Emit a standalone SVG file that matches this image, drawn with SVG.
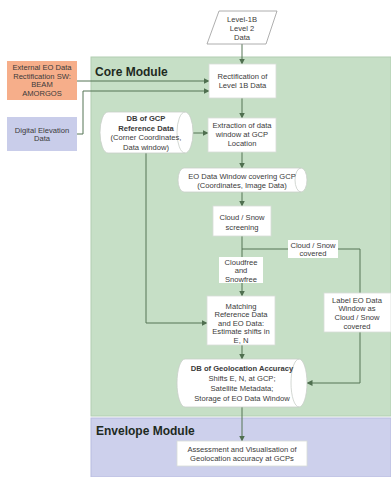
<svg xmlns="http://www.w3.org/2000/svg" width="391" height="477" viewBox="0 0 391 477">
<defs>
<marker id="ah" markerWidth="6" markerHeight="6" refX="5.5" refY="3" orient="auto" markerUnits="userSpaceOnUse">
<path d="M0,0 L6,3 L0,6 Z" fill="#4f6f4f"/>
</marker>
<style>
.t{font-family:"Liberation Sans",Arial,sans-serif;font-size:7.6px;fill:#3a3a3a;text-anchor:middle}
.b{font-weight:bold}
.h{font-family:"Liberation Sans",Arial,sans-serif;font-size:12px;font-weight:bold;fill:#1e2a1e}
.box{fill:#ffffff;stroke:#d8ddd8;stroke-width:0.8}
.cyl{fill:#ffffff;stroke:#c8cec8;stroke-width:0.8}
.c{fill:none;stroke:#557555;stroke-width:1}
.a{marker-end:url(#ah)}
</style>
</defs>
<rect width="391" height="477" fill="#ffffff"/>
<g id="core-module">
<rect x="91" y="57" width="300" height="359" fill="#c6dfc6" stroke="#b2ceb2" stroke-width="1"/>
<text class="h" x="95" y="76">Core Module</text>
</g>
<g id="envelope-module">
<rect x="91" y="418" width="300" height="59" fill="#cdd0ec" stroke="#b8bce0" stroke-width="1"/>
<text class="h" x="96" y="435">Envelope Module</text>
</g>
<g id="connectors">
<path class="c a" d="M242,44 V64"/>
<path class="c a" d="M77,81 H209"/>
<path class="c a" d="M77,134 H83 V91 H209"/>
<path class="c a" d="M242,98 V118"/>
<path class="c a" d="M193,133 H208"/>
<path class="c a" d="M242,152 V168"/>
<path class="c a" d="M242,192 V206"/>
<path class="c a" d="M242,236 V296"/>
<path class="c" d="M242,249 H360 V293"/>
<path class="c a" d="M360,332 V383 H307"/>
<path class="c a" d="M146,153 V323 H207"/>
<path class="c a" d="M242,345 V359"/>
<path class="c a" d="M242,407 V441"/>
</g>
<g id="level1b">
<polygon points="219,11 277,11 266,44 207,44" fill="#ffffff" stroke="#9a9a9a" stroke-width="0.8"/>
<text class="t" x="242" y="22">Level-1B</text>
<text class="t" x="242" y="31">Level 2</text>
<text class="t" x="242" y="40">Data</text>
</g>
<g id="external-eo">
<rect x="7" y="61" width="70" height="39" fill="#f6ae8a"/>
<text class="t" x="42" y="70">External EO Data</text>
<text class="t" x="42" y="78.5">Rectification SW:</text>
<text class="t" x="42" y="87">BEAM</text>
<text class="t" x="42" y="95.5">AMORGOS</text>
</g>
<g id="dem">
<rect x="7" y="117" width="70" height="34" fill="#c9cdea"/>
<text class="t" x="42" y="133">Digital Elevation</text>
<text class="t" x="42" y="141">Data</text>
</g>
<g id="rectification">
<rect class="box" x="209" y="64" width="67" height="34"/>
<text class="t" x="242.5" y="79">Rectification of</text>
<text class="t" x="242.5" y="88">Level 1B Data</text>
</g>
<g id="extraction">
<rect class="box" x="208" y="118" width="68" height="34"/>
<text class="t" x="242" y="128">Extraction of data</text>
<text class="t" x="242" y="137">window at GCP</text>
<text class="t" x="242" y="146">Location</text>
</g>
<g id="db-gcp">
<path class="cyl" d="M108,112 H185 A8,20.5 0 0 1 185,153 H108 A8,20.5 0 0 1 108,112 Z"/>
<path fill="none" stroke="#c8cec8" stroke-width="0.8" d="M185,112 A8,20.5 0 0 0 185,153"/>
<text class="t b" x="146" y="121">DB of GCP</text>
<text class="t b" x="146" y="130.5">Reference Data</text>
<text class="t" x="146" y="140">(Corner Coordinates,</text>
<text class="t" x="146" y="149.5">Data window)</text>
</g>
<g id="eo-window">
<path class="cyl" d="M184,168 H301 A6,12 0 0 1 301,192 H184 A6,12 0 0 1 184,168 Z"/>
<path fill="none" stroke="#c8cec8" stroke-width="0.8" d="M301,168 A6,12 0 0 0 301,192"/>
<text class="t" x="242" y="179">EO Data Window covering GCP</text>
<text class="t" x="242" y="188">(Coordinates, Image Data)</text>
</g>
<g id="screening">
<rect class="box" x="213" y="206" width="58" height="30"/>
<text class="t" x="242" y="220">Cloud / Snow</text>
<text class="t" x="242" y="229.5">screening</text>
</g>
<g id="label-covered">
<rect x="288" y="240" width="50" height="18" fill="#ffffff"/>
<text class="t" x="313" y="248">Cloud / Snow</text>
<text class="t" x="313" y="256">covered</text>
</g>
<g id="label-cloudfree">
<rect x="219" y="257" width="44" height="26" fill="#ffffff"/>
<text class="t" x="241" y="264.5">Cloudfree</text>
<text class="t" x="241" y="273">and</text>
<text class="t" x="241" y="281.5">Snowfree</text>
</g>
<g id="matching">
<rect class="box" x="207" y="296" width="68" height="49"/>
<text class="t" x="241" y="308.5">Matching</text>
<text class="t" x="241" y="317">Reference Data</text>
<text class="t" x="241" y="325.5">and EO Data:</text>
<text class="t" x="241" y="334">Estimate shifts in</text>
<text class="t" x="241" y="342.5">E, N</text>
</g>
<g id="label-eo">
<rect class="box" x="324" y="293" width="67" height="39"/>
<text class="t" x="357" y="302.5">Label EO Data</text>
<text class="t" x="357" y="311">Window as</text>
<text class="t" x="357" y="320">Cloud / Snow</text>
<text class="t" x="357" y="329">covered</text>
</g>
<g id="db-geolocation">
<path class="cyl" d="M185,359 H299 A8,24 0 0 1 299,407 H185 A8,24 0 0 1 185,359 Z"/>
<path fill="none" stroke="#c8cec8" stroke-width="0.8" d="M299,359 A8,24 0 0 0 299,407"/>
<text class="t b" x="242" y="370.5">DB of Geolocation Accuracy</text>
<text class="t" x="242" y="381">Shifts E, N, at GCP;</text>
<text class="t" x="242" y="390.5">Satellite Metadata;</text>
<text class="t" x="242" y="400.5">Storage of EO Data Window</text>
</g>
<g id="assessment">
<rect class="box" x="177" y="441" width="130" height="25"/>
<text class="t" x="242" y="451.5">Assessment and Visualisation of</text>
<text class="t" x="242" y="460.5">Geolocation accuracy at GCPs</text>
</g>
</svg>
